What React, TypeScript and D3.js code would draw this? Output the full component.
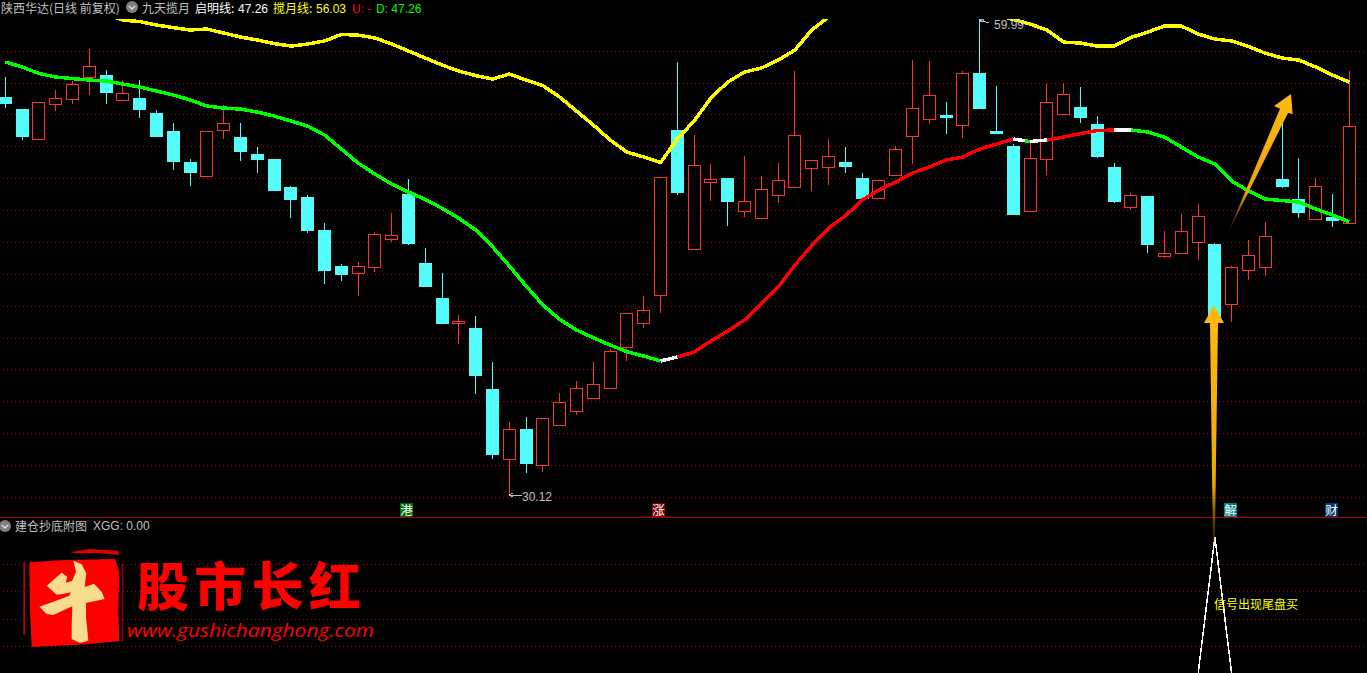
import * as d3 from 'd3';
import React from 'react';

const opens = [55.09, 54.34, 52.48, 54.67, 54.99, 56.37, 56.47, 54.92, 55.03, 54.09, 52.96, 51.01, 50.15, 53.04, 52.58, 51.52, 51.20, 49.45, 48.82, 46.75, 44.49, 44.07, 44.44, 46.20, 49.01, 44.68, 42.48, 40.94, 40.60, 36.77, 32.40, 34.26, 32.02, 34.53, 35.41, 36.22, 36.85, 39.42, 40.93, 42.69, 53.02, 45.55, 49.78, 50.01, 47.96, 47.52, 48.96, 49.46, 50.66, 50.72, 51.01, 50.01, 48.77, 50.22, 52.66, 53.73, 53.96, 53.35, 56.60, 52.96, 52.02, 47.96, 51.22, 54.05, 54.47, 53.40, 50.70, 48.21, 48.88, 45.13, 45.32, 46.01, 45.87, 42.12, 44.26, 44.44, 49.95, 48.69, 47.44, 47.56, 47.21];
const closes = [54.65, 52.58, 54.76, 55.01, 55.89, 57.02, 55.34, 55.33, 54.28, 52.58, 51.01, 50.32, 52.94, 53.44, 51.64, 51.14, 49.20, 48.63, 46.68, 44.17, 43.92, 44.47, 46.48, 46.41, 45.87, 43.17, 40.85, 41.01, 37.59, 32.63, 34.24, 32.06, 34.93, 35.94, 36.81, 37.06, 39.14, 41.52, 41.71, 50.05, 49.07, 50.81, 49.95, 48.50, 48.55, 49.30, 49.87, 52.69, 51.12, 51.37, 50.70, 48.69, 49.87, 51.81, 54.38, 55.20, 53.78, 56.58, 54.34, 52.77, 47.69, 51.25, 54.76, 55.26, 53.78, 51.33, 48.50, 48.92, 45.81, 45.29, 46.67, 47.61, 40.97, 44.41, 45.16, 46.35, 49.45, 47.81, 49.49, 47.31, 53.25];
const highs = [56.35, 54.34, 54.76, 55.53, 56.10, 58.11, 56.79, 56.16, 56.16, 54.28, 53.46, 51.20, 52.94, 54.59, 53.46, 51.96, 51.20, 49.51, 48.94, 47.19, 44.61, 44.74, 46.62, 47.81, 49.95, 45.62, 44.05, 41.41, 41.35, 38.46, 34.70, 35.01, 34.93, 36.52, 37.27, 38.46, 39.28, 41.52, 42.61, 50.05, 57.29, 52.71, 50.89, 50.01, 51.39, 50.14, 50.95, 56.72, 51.12, 52.46, 51.96, 50.32, 49.87, 52.02, 57.41, 57.35, 54.78, 56.72, 59.99, 55.78, 52.14, 52.21, 55.91, 55.97, 55.72, 53.90, 50.95, 49.07, 48.88, 46.68, 47.75, 48.38, 45.93, 44.49, 46.12, 47.25, 53.78, 51.27, 50.01, 49.01, 56.72];
const lows = [54.40, 52.39, 52.48, 54.21, 54.65, 55.22, 54.65, 54.92, 53.78, 52.58, 50.51, 49.51, 50.15, 52.46, 51.08, 50.32, 49.20, 47.50, 46.56, 43.36, 43.55, 42.61, 44.11, 45.99, 45.81, 43.17, 40.85, 39.59, 36.46, 32.38, 30.12, 31.50, 31.56, 34.53, 35.14, 36.22, 36.85, 38.53, 40.60, 41.54, 48.94, 45.49, 48.57, 47.00, 47.56, 47.52, 48.44, 49.38, 49.20, 49.57, 50.32, 48.69, 48.77, 50.22, 50.89, 53.40, 52.77, 52.52, 54.34, 52.77, 47.69, 47.96, 50.20, 54.05, 53.46, 51.27, 48.44, 48.00, 45.30, 44.99, 45.32, 44.87, 40.97, 40.97, 43.61, 43.86, 49.38, 47.50, 47.44, 46.94, 47.21];

// 启明线
const qiming = [57.29, 56.98, 56.57, 56.35, 56.25, 56.16, 56.10, 55.91, 55.72, 55.47, 55.22, 54.91, 54.53, 54.40, 54.34, 54.15, 53.90, 53.59, 53.27, 52.71, 51.83, 50.95, 50.26, 49.63, 49.13, 48.66, 48.11, 47.48, 46.75, 45.70, 44.49, 43.23, 42.04, 41.14, 40.47, 39.99, 39.53, 39.11, 38.84, 38.53, 38.78, 39.09, 39.78, 40.41, 41.10, 42.10, 43.17, 44.55, 45.76, 46.87, 47.63, 48.63, 49.26, 49.76, 50.32, 50.70, 51.14, 51.33, 51.83, 52.14, 52.46, 52.30, 52.40, 52.58, 52.80, 52.99, 53.02, 53.02, 52.90, 52.58, 51.96, 51.33, 50.89, 49.82, 49.20, 48.69, 48.60, 48.50, 48.07, 47.69, 47.26];
// 搅月线, null where it runs off the top of the panel
const jiaoyue: (number | null)[] = [null, null, null, null, null, null, 60.30, 59.92, 59.83, 59.61, 59.45, 59.30, 59.36, 59.11, 58.86, 58.67, 58.45, 58.29, 58.42, 58.61, 59.02, 58.98, 58.80, 58.42, 57.98, 57.54, 57.10, 56.72, 56.44, 56.22, 56.54, 56.16, 55.81, 55.09, 54.21, 53.34, 52.40, 51.64, 51.33, 50.98, 52.46, 53.59, 55.03, 56.03, 56.66, 56.91, 57.41, 58.04, 59.30, 60.11, null, null, null, null, null, null, null, null, null, 60.24, 59.96, 59.67, 59.30, 58.54, 58.48, 58.29, 58.29, 58.83, 59.17, 59.55, 59.55, 59.05, 58.73, 58.61, 58.26, 57.85, 57.54, 57.41, 56.98, 56.47, 56.03];

// trend colour along 启明线: [from index, to index, trend]
const trendSpans: [number, number, string][] = [
    [0, 39, 'down'], [39, 40, 'flat'], [40, 60, 'up'], [60, 60.7, 'flat'], [60.7, 61, 'down'],
    [61, 62, 'flat'], [62, 66, 'up'], [66, 67, 'flat'], [67, 80, 'down'],
];
const trendColors: Record<string, string> = { down: '#00ff00', flat: '#ffffff', up: '#ff0000' };

// XGG signal in the lower panel
const xgg = qiming.map((_, i) => (i === 72 ? 1 : 0));
const gridPrices = d3.range(30, 60, 2);
const gridXgg = [0.2, 0.4, 0.6, 0.8];

const badges: [number, string, string][] = [
    [24, '港', '#006b00'],
    [39, '涨', '#7f0000'],
    [73, '解', '#007f7f'],
    [79, '财', '#003a70'],
];

const WIDTH = 1367;
const HEIGHT = 673;
const CYAN = '#54fcfc';
const RED = '#ff3232';
const GRID = '#a00000';
const GRAY = '#c0c0c0';
const CJK = '"Noto Sans CJK SC", sans-serif';
const LATIN = '"Liberation Sans", sans-serif';

const xScale = d3.scaleLinear().domain([0, 80]).range([5.3, 1349.3]);
const yScale = d3.scaleLinear().domain([30.12, 59.99]).range([495, 19]);
const xggScale = d3.scaleLinear().domain([0, 1]).range([674, 537]);
const qimingAt = d3.scaleLinear<number>().domain(qiming.map((_, i) => i)).range(qiming);

const px = (v: number) => Math.floor(v) + 0.5;

const Chevron: React.FC<{ cx: number; cy: number }> = ({ cx, cy }) => (
    <g>
        <circle cx={cx} cy={cy} r={6} fill="#808080" />
        <path d={`M${cx - 3} ${cy - 1}L${cx} ${cy + 2}L${cx + 3} ${cy - 1}`} fill="none" stroke="#e0e0e0" strokeWidth={1.4} />
    </g>
);

const Label: React.FC<{ x: number; y: number; fill?: string; font?: string; children: React.ReactNode }> = ({ x, y, fill = GRAY, font = CJK, children }) => (
    <text x={x} y={y} fill={fill} fontFamily={font} fontSize={12}>{children}</text>
);

const App: React.FC = () => {
    const priceLine = d3.line<number>().x((d) => xScale(d)).y((d) => yScale(qimingAt(d)));
    const moonLine = d3.line<number | null>()
        .defined((d) => d !== null)
        .x((_, i) => xScale(i))
        .y((d) => yScale(d as number));
    const xggLine = d3.line<number>().x((_, i) => xScale(i)).y((d) => xggScale(d));

    return (
        <div>
            <style>{`body { margin: 0; background: #000; overflow: hidden; }`}</style>
            <svg width={WIDTH} height={HEIGHT} style={{ display: 'block', background: '#000' }}>
                <defs>
                    <clipPath id="main-clip"><rect x={0} y={19} width={WIDTH} height={498} /></clipPath>
                    <clipPath id="sub-clip"><rect x={0} y={518} width={WIDTH} height={155} /></clipPath>
                    <linearGradient id="tail-up" x1="0" y1="0" x2="0" y2="1">
                        <stop offset="0%" stopColor="#ffb90f" />
                        <stop offset="75%" stopColor="#f0a808" />
                        <stop offset="100%" stopColor="#a06a00" stopOpacity={0.2} />
                    </linearGradient>
                    <linearGradient id="tail-diag" gradientUnits="userSpaceOnUse" x1={1291} y1={94} x2={1227} y2={235}>
                        <stop offset="0%" stopColor="#ffb90f" />
                        <stop offset="70%" stopColor="#eba60a" />
                        <stop offset="100%" stopColor="#6b4600" stopOpacity={0.3} />
                    </linearGradient>
                </defs>

                {gridPrices.map((p) => (
                    <line key={p} x1={3} x2={WIDTH} y1={px(yScale(p) + 0.5)} y2={px(yScale(p) + 0.5)} stroke={GRID} strokeDasharray="1 3" shapeRendering="crispEdges" />
                ))}
                {gridXgg.map((v) => (
                    <line key={v} x1={3} x2={WIDTH} y1={px(xggScale(v))} y2={px(xggScale(v))} stroke={GRID} strokeDasharray="1 3" shapeRendering="crispEdges" />
                ))}
                <line x1={0} x2={WIDTH} y1={517.5} y2={517.5} stroke="#b00000" shapeRendering="crispEdges" />

                {/* candles */}
                <g shapeRendering="crispEdges">
                    {opens.map((open, i) => {
                        const up = closes[i] >= open;
                        const cx = px(xScale(i));
                        const top = Math.round(yScale(Math.max(open, closes[i])));
                        const bottom = Math.round(yScale(Math.min(open, closes[i])));
                        const color = up ? RED : CYAN;
                        return (
                            <g key={i}>
                                <line x1={cx} x2={cx} y1={yScale(highs[i])} y2={yScale(lows[i])} stroke={color} />
                                {up ? (
                                    <rect x={cx - 6} y={top + 0.5} width={12} height={Math.max(bottom - top, 1)} fill="#000" stroke={color} />
                                ) : (
                                    <rect x={cx - 6.5} y={top} width={13} height={bottom - top} fill={color} />
                                )}
                            </g>
                        );
                    })}
                </g>

                <g clipPath="url(#main-clip)" fill="none" strokeWidth={3.5} shapeRendering="crispEdges">
                    <path d={moonLine(jiaoyue) ?? ''} stroke="#ffff00" />
                    {trendSpans.map(([from, to, trend]) => {
                        const steps = [from, ...d3.range(Math.floor(from) + 1, Math.ceil(to)), to];
                        return <path key={from} d={priceLine(steps) ?? ''} stroke={trendColors[trend]} />;
                    })}
                </g>

                {/* high and low flags */}
                <g stroke={GRAY} fill="none" shapeRendering="crispEdges">
                    <path d={`M${px(xScale(58))} ${yScale(59.99)}h4M${px(xScale(58))} ${yScale(59.99)}l3 3`} />
                    <path d={`M${px(xScale(58)) + 1} ${yScale(59.99) + 3}l3 -1l5 2`} />
                    <path d={`M${px(xScale(30))} ${yScale(30.12)}h12M${px(xScale(30))} ${yScale(30.12)}l3 -2M${px(xScale(30))} ${yScale(30.12)}l3 2`} />
                </g>
                <Label x={994} y={29} font={LATIN}>59.99</Label>
                <Label x={522} y={501} font={LATIN}>30.12</Label>

                {/* event badges */}
                {badges.map(([i, glyph, color]) => (
                    <g key={glyph}>
                        <rect x={Math.round(xScale(i)) - 8} y={503} width={13} height={14} fill={color} />
                        <text x={Math.round(xScale(i)) - 1.5} y={514.5} textAnchor="middle" fill="#fff" fontFamily={CJK} fontSize={12.5}>{glyph}</text>
                    </g>
                ))}

                {/* header text */}
                <Label x={1} y={13}>陕西华达(日线 前复权)</Label>
                <Chevron cx={132} cy={7} />
                <Label x={142} y={13}>九天揽月</Label>
                <Label x={195} y={13} fill="#ffffff">启明线:</Label>
                <Label x={238} y={12.5} fill="#ffffff" font={LATIN}>47.26</Label>
                <Label x={273} y={13} fill="#ffff00">搅月线:</Label>
                <Label x={316} y={12.5} fill="#ffff00" font={LATIN}>56.03</Label>
                <Label x={352} y={12.5} fill="#ff0000" font={LATIN}>U: -</Label>
                <Label x={376} y={12.5} fill="#00ff00" font={LATIN}>D: 47.26</Label>

                <Chevron cx={5} cy={526} />
                <Label x={15} y={531}>建仓抄底附图</Label>
                <Label x={93} y={530} font={LATIN}>XGG: 0.00</Label>

                <g clipPath="url(#sub-clip)">
                    <path d={xggLine(xgg) ?? ''} fill="none" stroke="#ffffff" strokeWidth={1.5} shapeRendering="crispEdges" />
                </g>
                <Label x={1214} y={609} fill="#ffff00">信号出现尾盘买</Label>

                {/* hand-drawn arrows of the original picture */}
                <path d="M1214 305L1224 323L1218 323L1214.8 545L1213 545L1210 323L1204 323Z" fill="url(#tail-up)" />
                <path d="M1291 94L1292.7 114L1288 113L1227 235L1280 108.7L1274 106Z" fill="url(#tail-diag)" />

                {/* watermark */}
                <g transform="translate(20,545) scale(0.3333)">
                    <path d="M28 52L120 46L285 42L298 80L295 200L298 288L200 298L35 306L30 200Z" fill="#ff0000" />
                    <path d="M150 22L210 12L295 18L298 30L230 24L170 25Z" fill="#e00000" />
                    <path d="M10 50H15V270H10Z" fill="#c00000" />
                    <path d="M305 55H310V290H305Z" fill="#900000" />
                    <path d="M160 47L185 58L199 85L194 126L222 116L245 140L254 162L198 174L198 215L205 287L180 294L155 282L155 240L157 184L100 210L80 207L58 185L100 170L148 152L152 142L130 147L110 149L80 122L125 83L142 95L137 113L156 108L168 80Z" fill="#f7dc8e" />
                </g>
                <text x={137} y={606} fill="#ff0000" fontFamily={CJK} fontWeight={900} fontSize={52} textLength={224} lengthAdjust="spacing">股市长红</text>
                <text x={127} y={637} fill="#ff0000" fontFamily='"Open Sans", sans-serif' fontStyle="italic" fontSize={19} textLength={247} lengthAdjust="spacingAndGlyphs">www.gushichanghong.com</text>
            </svg>
        </div>
    );
};

export default App;
